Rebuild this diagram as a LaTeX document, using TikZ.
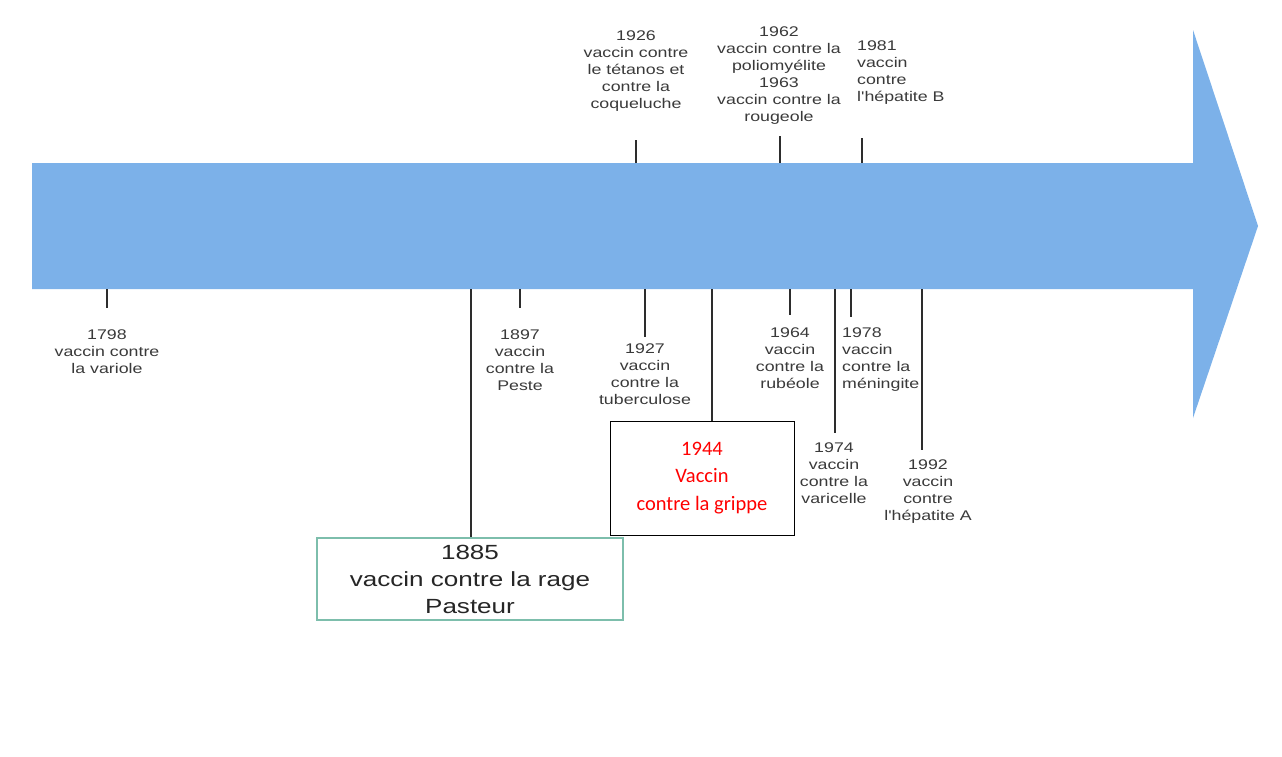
\documentclass[tikz,border=0pt]{standalone}
\usepackage{fontspec}
\setmainfont{Liberation Sans}
\newfontfamily\lab[FakeStretch=1.27]{Liberation Sans}
\newfontfamily\calfont{Carlito}
\definecolor{arrowblue}{RGB}{124,177,233}
\definecolor{txt}{RGB}{58,58,58}
\definecolor{tickcol}{RGB}{45,45,45}
\definecolor{tealbox}{RGB}{125,190,172}
\begin{document}
\begin{tikzpicture}[x=1pt,y=-1pt,
  small/.style={font=\lab\fontsize{14}{17}\selectfont, text=txt, align=center, inner sep=0pt, anchor=north},
  smallleft/.style={small, align=left, anchor=north west},
  tickline/.style={draw=tickcol, line width=2.4pt},
  longtick/.style={draw=tickcol, line width=1.8pt}]
\useasboundingbox (0,0) rectangle (1282,756);
\fill[white] (0,0) rectangle (1282,756);

% big arrow
\fill[arrowblue] (32,163) -- (1193,163) -- (1193,30) -- (1258,226) -- (1193,418) -- (1193,289) -- (32,289) -- cycle;

% boxes
\node[draw=tealbox, line width=1.2pt, fill=white, minimum width=306, minimum height=82, inner sep=0pt,
  font=\lab\fontsize{20.5}{27}\selectfont, text=black!85, align=center] (b1885) at (470,579)
  {1885\\vaccin contre la rage\\Pasteur};
\node[draw=black, line width=0.9pt, fill=white, minimum width=184, minimum height=114, inner sep=0pt,
  font=\calfont\fontsize{20.5}{27.5}\selectfont, text=red, align=center] (b1944) at (702,478)
  {1944\\Vaccin\\contre la grippe};

% labels below
\node[small] (l1798) at (107,330) {1798\\vaccin contre\\la variole};
\node[small] (l1897) at (520,330) {1897\\vaccin\\contre la\\Peste};
\node[small] (l1927) at (645,344) {1927\\vaccin\\contre la\\tuberculose};
\node[small] (l1964) at (790,328) {1964\\vaccin\\contre la\\rubéole};
\node[smallleft] (l1978) at (842,328) {1978\\vaccin\\contre la\\méningite};
\node[small] (l1974) at (834,443) {1974\\vaccin\\contre la\\varicelle};
\node[small] (l1992) at (928,460) {1992\\vaccin\\contre\\l'hépatite A};

% labels above
\node[small] (l1926) at (636,31) {1926\\vaccin contre\\le tétanos et\\contre la\\coqueluche};
\node[small] (l1962) at (779,27) {1962\\vaccin contre la\\poliomyélite\\1963\\vaccin contre la\\rougeole};
\node[smallleft] (l1981) at (857,41) {1981\\vaccin\\contre\\l'hépatite B};

% tick coordinates
\coordinate (a1798) at (107,289); \coordinate (e1798) at (107,308);
\coordinate (a1885) at (471,289);
\coordinate (a1897) at (520,289); \coordinate (e1897) at (520,308);
\coordinate (a1927) at (645,289); \coordinate (e1927) at (645,337);
\coordinate (a1944) at (712,289);
\coordinate (a1964) at (790,289); \coordinate (e1964) at (790,315);
\coordinate (a1974) at (835,289); \coordinate (e1974) at (835,433);
\coordinate (a1978) at (851,289); \coordinate (e1978) at (851,317);
\coordinate (a1992) at (922,289); \coordinate (e1992) at (922,450);
\coordinate (a1926) at (636,163); \coordinate (e1926) at (636,140);
\coordinate (a1962) at (780,163); \coordinate (e1962) at (780,136);
\coordinate (a1981) at (862,163); \coordinate (e1981) at (862,138);

% ticks
\draw[tickline] (a1798) -- (e1798);
\draw[longtick] (a1885) -- (b1885.north -| a1885);
\draw[tickline] (a1897) -- (e1897);
\draw[tickline] (a1927) -- (e1927);
\draw[longtick] (a1944) -- (b1944.north -| a1944);
\draw[tickline] (a1964) -- (e1964);
\draw[longtick] (a1974) -- (e1974);
\draw[tickline] (a1978) -- (e1978);
\draw[longtick] (a1992) -- (e1992);
\draw[tickline] (a1926) -- (e1926);
\draw[tickline] (a1962) -- (e1962);
\draw[tickline] (a1981) -- (e1981);
\end{tikzpicture}
\end{document}
